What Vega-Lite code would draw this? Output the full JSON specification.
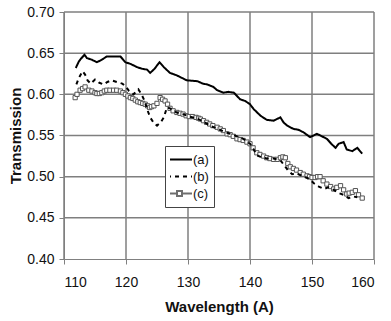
{
 "$schema": "https://vega.github.io/schema/vega-lite/v6.json",
 "width": 310, "height": 247,
 "autosize": {"type": "none"},
 "padding": {"left": 64, "top": 12, "right": 17, "bottom": 62},
 "background": "white",
 "config": {
  "font": "Liberation Sans",
  "view": {"stroke": null},
  "axis": {"grid": false, "domainColor": "#808080", "tickColor": "#808080", "labelFont": "Liberation Sans", "labelFontSize": 14, "labelColor": "#111", "titleFont": "Liberation Sans", "titleFontSize": 15, "titleFontWeight": "bold", "titleColor": "#111", "tickSize": 5}
 },
 "datasets": {
  "gx": [{"g": 110}, {"g": 120}, {"g": 130}, {"g": 140}, {"g": 150}, {"g": 160}],
  "gy": [{"g": 0.45}, {"g": 0.5}, {"g": 0.55}, {"g": 0.6}, {"g": 0.65}, {"g": 0.7}],
  "d": [
   {"s":"(a)","x":111.9,"y":0.632},{"s":"(a)","x":112.4,"y":0.640},{"s":"(a)","x":112.7,"y":0.643},{"s":"(a)","x":113.3,"y":0.648},{"s":"(a)","x":113.7,"y":0.644},{"s":"(a)","x":114.5,"y":0.642},{"s":"(a)","x":115.3,"y":0.639},{"s":"(a)","x":116.1,"y":0.642},{"s":"(a)","x":116.9,"y":0.646},{"s":"(a)","x":118.0,"y":0.646},{"s":"(a)","x":119.1,"y":0.646},{"s":"(a)","x":119.9,"y":0.639},{"s":"(a)","x":120.7,"y":0.637},{"s":"(a)","x":121.8,"y":0.633},{"s":"(a)","x":122.6,"y":0.631},{"s":"(a)","x":123.4,"y":0.630},{"s":"(a)","x":123.9,"y":0.626},{"s":"(a)","x":124.6,"y":0.631},{"s":"(a)","x":125.4,"y":0.639},{"s":"(a)","x":126.1,"y":0.633},{"s":"(a)","x":127.1,"y":0.626},{"s":"(a)","x":128.2,"y":0.623},{"s":"(a)","x":129.8,"y":0.617},{"s":"(a)","x":131.5,"y":0.616},{"s":"(a)","x":132.4,"y":0.613},{"s":"(a)","x":133.1,"y":0.612},{"s":"(a)","x":134.1,"y":0.609},{"s":"(a)","x":134.7,"y":0.605},{"s":"(a)","x":135.7,"y":0.602},{"s":"(a)","x":136.5,"y":0.603},{"s":"(a)","x":137.4,"y":0.602},{"s":"(a)","x":138.4,"y":0.594},{"s":"(a)","x":139.2,"y":0.592},{"s":"(a)","x":140.0,"y":0.588},{"s":"(a)","x":140.6,"y":0.582},{"s":"(a)","x":141.7,"y":0.574},{"s":"(a)","x":142.7,"y":0.569},{"s":"(a)","x":143.8,"y":0.568},{"s":"(a)","x":144.9,"y":0.572},{"s":"(a)","x":145.4,"y":0.566},{"s":"(a)","x":146.0,"y":0.562},{"s":"(a)","x":147.0,"y":0.558},{"s":"(a)","x":147.8,"y":0.557},{"s":"(a)","x":148.6,"y":0.554},{"s":"(a)","x":149.7,"y":0.548},{"s":"(a)","x":150.8,"y":0.552},{"s":"(a)","x":151.6,"y":0.549},{"s":"(a)","x":152.4,"y":0.546},{"s":"(a)","x":153.1,"y":0.540},{"s":"(a)","x":153.8,"y":0.535},{"s":"(a)","x":154.3,"y":0.540},{"s":"(a)","x":155.1,"y":0.542},{"s":"(a)","x":155.6,"y":0.533},{"s":"(a)","x":156.5,"y":0.531},{"s":"(a)","x":157.3,"y":0.535},{"s":"(a)","x":158.1,"y":0.528},
   {"s":"(b)","x":112.0,"y":0.612},{"s":"(b)","x":112.4,"y":0.620},{"s":"(b)","x":113.0,"y":0.628},{"s":"(b)","x":113.4,"y":0.624},{"s":"(b)","x":113.8,"y":0.617},{"s":"(b)","x":114.3,"y":0.613},{"s":"(b)","x":115.0,"y":0.618},{"s":"(b)","x":115.7,"y":0.614},{"s":"(b)","x":116.4,"y":0.612},{"s":"(b)","x":117.0,"y":0.615},{"s":"(b)","x":117.7,"y":0.617},{"s":"(b)","x":118.5,"y":0.615},{"s":"(b)","x":119.4,"y":0.613},{"s":"(b)","x":119.9,"y":0.610},{"s":"(b)","x":120.5,"y":0.604},{"s":"(b)","x":121.2,"y":0.600},{"s":"(b)","x":122.0,"y":0.606},{"s":"(b)","x":122.5,"y":0.600},{"s":"(b)","x":123.0,"y":0.592},{"s":"(b)","x":123.5,"y":0.580},{"s":"(b)","x":123.9,"y":0.572},{"s":"(b)","x":124.5,"y":0.565},{"s":"(b)","x":125.0,"y":0.562},{"s":"(b)","x":125.6,"y":0.566},{"s":"(b)","x":126.1,"y":0.572},{"s":"(b)","x":126.6,"y":0.584},{"s":"(b)","x":127.1,"y":0.583},{"s":"(b)","x":127.6,"y":0.580},{"s":"(b)","x":128.2,"y":0.578},{"s":"(b)","x":129.2,"y":0.576},{"s":"(b)","x":130.2,"y":0.573},{"s":"(b)","x":131.3,"y":0.571},{"s":"(b)","x":132.5,"y":0.567},{"s":"(b)","x":133.5,"y":0.562},{"s":"(b)","x":134.5,"y":0.559},{"s":"(b)","x":135.7,"y":0.555},{"s":"(b)","x":136.8,"y":0.552},{"s":"(b)","x":137.9,"y":0.549},{"s":"(b)","x":138.9,"y":0.546},{"s":"(b)","x":140.0,"y":0.540},{"s":"(b)","x":140.6,"y":0.533},{"s":"(b)","x":141.1,"y":0.526},{"s":"(b)","x":141.7,"y":0.524},{"s":"(b)","x":142.7,"y":0.522},{"s":"(b)","x":143.8,"y":0.522},{"s":"(b)","x":144.9,"y":0.520},{"s":"(b)","x":145.5,"y":0.514},{"s":"(b)","x":146.1,"y":0.508},{"s":"(b)","x":146.8,"y":0.503},{"s":"(b)","x":147.5,"y":0.504},{"s":"(b)","x":148.1,"y":0.502},{"s":"(b)","x":148.8,"y":0.500},{"s":"(b)","x":149.6,"y":0.497},{"s":"(b)","x":150.3,"y":0.492},{"s":"(b)","x":151.1,"y":0.488},{"s":"(b)","x":151.9,"y":0.485},{"s":"(b)","x":152.6,"y":0.487},{"s":"(b)","x":153.5,"y":0.484},{"s":"(b)","x":154.3,"y":0.480},{"s":"(b)","x":155.1,"y":0.478},{"s":"(b)","x":155.9,"y":0.474},{"s":"(b)","x":156.6,"y":0.476},{"s":"(b)","x":157.3,"y":0.475},
   {"s":"(c)","x":111.8,"y":0.596},{"s":"(c)","x":112.1,"y":0.600},{"s":"(c)","x":112.6,"y":0.605},{"s":"(c)","x":113.0,"y":0.607},{"s":"(c)","x":113.4,"y":0.609},{"s":"(c)","x":114.0,"y":0.605},{"s":"(c)","x":114.5,"y":0.604},{"s":"(c)","x":115.0,"y":0.602},{"s":"(c)","x":115.3,"y":0.601},{"s":"(c)","x":115.7,"y":0.601},{"s":"(c)","x":116.1,"y":0.602},{"s":"(c)","x":116.5,"y":0.604},{"s":"(c)","x":116.9,"y":0.605},{"s":"(c)","x":117.4,"y":0.605},{"s":"(c)","x":118.0,"y":0.605},{"s":"(c)","x":118.5,"y":0.605},{"s":"(c)","x":119.1,"y":0.604},{"s":"(c)","x":119.5,"y":0.602},{"s":"(c)","x":119.9,"y":0.600},{"s":"(c)","x":120.3,"y":0.598},{"s":"(c)","x":120.7,"y":0.596},{"s":"(c)","x":121.1,"y":0.595},{"s":"(c)","x":121.5,"y":0.593},{"s":"(c)","x":121.9,"y":0.591},{"s":"(c)","x":122.3,"y":0.590},{"s":"(c)","x":122.7,"y":0.589},{"s":"(c)","x":123.1,"y":0.588},{"s":"(c)","x":123.5,"y":0.586},{"s":"(c)","x":123.8,"y":0.584},{"s":"(c)","x":124.1,"y":0.585},{"s":"(c)","x":124.5,"y":0.586},{"s":"(c)","x":125.0,"y":0.589},{"s":"(c)","x":125.5,"y":0.596},{"s":"(c)","x":125.9,"y":0.594},{"s":"(c)","x":126.3,"y":0.592},{"s":"(c)","x":126.7,"y":0.588},{"s":"(c)","x":127.1,"y":0.583},{"s":"(c)","x":127.6,"y":0.580},{"s":"(c)","x":128.2,"y":0.578},{"s":"(c)","x":128.7,"y":0.577},{"s":"(c)","x":129.2,"y":0.576},{"s":"(c)","x":129.7,"y":0.574},{"s":"(c)","x":130.2,"y":0.573},{"s":"(c)","x":130.7,"y":0.573},{"s":"(c)","x":131.3,"y":0.572},{"s":"(c)","x":131.7,"y":0.571},{"s":"(c)","x":132.0,"y":0.570},{"s":"(c)","x":132.5,"y":0.568},{"s":"(c)","x":133.0,"y":0.566},{"s":"(c)","x":133.5,"y":0.564},{"s":"(c)","x":134.0,"y":0.562},{"s":"(c)","x":134.7,"y":0.560},{"s":"(c)","x":135.2,"y":0.558},{"s":"(c)","x":135.7,"y":0.556},{"s":"(c)","x":136.3,"y":0.552},{"s":"(c)","x":136.8,"y":0.551},{"s":"(c)","x":137.3,"y":0.549},{"s":"(c)","x":137.9,"y":0.546},{"s":"(c)","x":138.4,"y":0.545},{"s":"(c)","x":138.9,"y":0.544},{"s":"(c)","x":139.5,"y":0.542},{"s":"(c)","x":140.0,"y":0.540},{"s":"(c)","x":140.5,"y":0.535},{"s":"(c)","x":141.1,"y":0.529},{"s":"(c)","x":141.6,"y":0.527},{"s":"(c)","x":142.2,"y":0.525},{"s":"(c)","x":142.7,"y":0.523},{"s":"(c)","x":143.2,"y":0.522},{"s":"(c)","x":143.8,"y":0.521},{"s":"(c)","x":144.4,"y":0.521},{"s":"(c)","x":144.9,"y":0.523},{"s":"(c)","x":145.3,"y":0.524},{"s":"(c)","x":145.7,"y":0.523},{"s":"(c)","x":146.1,"y":0.516},{"s":"(c)","x":146.5,"y":0.512},{"s":"(c)","x":147.0,"y":0.510},{"s":"(c)","x":147.5,"y":0.508},{"s":"(c)","x":148.1,"y":0.505},{"s":"(c)","x":148.6,"y":0.503},{"s":"(c)","x":149.2,"y":0.501},{"s":"(c)","x":149.6,"y":0.500},{"s":"(c)","x":150.0,"y":0.499},{"s":"(c)","x":150.5,"y":0.499},{"s":"(c)","x":150.9,"y":0.500},{"s":"(c)","x":151.3,"y":0.500},{"s":"(c)","x":151.8,"y":0.495},{"s":"(c)","x":152.4,"y":0.491},{"s":"(c)","x":153.0,"y":0.488},{"s":"(c)","x":153.5,"y":0.485},{"s":"(c)","x":154.0,"y":0.487},{"s":"(c)","x":154.6,"y":0.489},{"s":"(c)","x":155.1,"y":0.484},{"s":"(c)","x":155.6,"y":0.479},{"s":"(c)","x":156.0,"y":0.480},{"s":"(c)","x":156.5,"y":0.481},{"s":"(c)","x":157.0,"y":0.483},{"s":"(c)","x":157.5,"y":0.478},{"s":"(c)","x":158.1,"y":0.474}
  ]
 },
 "layer": [
  {
   "data": {"name": "gx"},
   "mark": {"type": "rule", "color": "#7f7f7f", "strokeWidth": 1.5},
   "encoding": {
    "x": {"field": "g", "type": "quantitative", "scale": {"domain": [110, 160], "nice": false, "zero": false}, "axis": {"title": "Wavelength (A)", "values": [110, 120, 130, 140, 150, 160], "labelPadding": 11, "titlePadding": 10}}
   }
  },
  {
   "data": {"name": "gy"},
   "mark": {"type": "rule", "color": "#7f7f7f", "strokeWidth": 1.5},
   "encoding": {
    "y": {"field": "g", "type": "quantitative", "scale": {"domain": [0.4, 0.7], "nice": false, "zero": false}, "axis": {"title": "Transmission", "values": [0.4, 0.45, 0.5, 0.55, 0.6, 0.65, 0.7], "format": ".2f", "labelPadding": 5, "titlePadding": 3}}
   }
  },
  {
   "data": {"name": "d"},
   "transform": [{"filter": "datum.s === '(c)'"}],
   "mark": {"type": "line", "strokeWidth": 1},
   "encoding": {
    "x": {"field": "x", "type": "quantitative", "title": "Wavelength (A)"},
    "y": {"field": "y", "type": "quantitative", "title": "Transmission"},
    "color": {"field": "s", "type": "nominal", "scale": {"domain": ["(a)", "(b)", "(c)"], "range": ["#000000", "#000000", "#6e6e6e"]}},
    "strokeDash": {"field": "s", "type": "nominal", "scale": {"domain": ["(a)", "(b)", "(c)"], "range": [[1, 0], [4, 4], [1, 0]]}},
    "strokeWidth": {"field": "s", "type": "nominal", "scale": {"domain": ["(a)", "(b)", "(c)"], "range": [2, 2, 1]}}
   }
  },
  {
   "data": {"name": "d"},
   "transform": [{"filter": "datum.s === '(c)'"}],
   "mark": {"type": "point", "shape": "square", "size": 18, "filled": true, "fill": "white", "stroke": "#555555", "strokeWidth": 1, "opacity": 1},
   "encoding": {
    "x": {"field": "x", "type": "quantitative", "title": "Wavelength (A)"},
    "y": {"field": "y", "type": "quantitative", "title": "Transmission"}
   }
  },
  {
   "data": {"name": "d"},
   "transform": [{"filter": "datum.s !== '(c)'"}],
   "mark": {"type": "line"},
   "encoding": {
    "x": {"field": "x", "type": "quantitative", "title": "Wavelength (A)"},
    "y": {"field": "y", "type": "quantitative", "title": "Transmission"},
    "color": {"field": "s", "type": "nominal", "scale": {"domain": ["(a)", "(b)", "(c)"], "range": ["#000000", "#000000", "#6e6e6e"]},
     "legend": {"orient": "none", "legendX": 101, "legendY": 134, "title": null, "strokeColor": "#444", "fillColor": "white", "padding": 5, "symbolType": "M-2,0H2", "symbolSize": 156, "symbolOffset": 2, "clipHeight": 17, "labelFontSize": 13, "labelColor": "#111", "labelOffset": 6, "rowPadding": 0,
      "encode": {"symbols": {"update": {"shape": {"signal": "datum.value === '(c)' ? 'M-2,0H-0.4M0.4,0H2M-0.4,-0.4H0.4V0.4H-0.4Z' : 'M-2,0H2'"}}}}}},
    "strokeDash": {"field": "s", "type": "nominal", "scale": {"domain": ["(a)", "(b)", "(c)"], "range": [[1, 0], [4, 4], [1, 0]]}},
    "strokeWidth": {"field": "s", "type": "nominal", "scale": {"domain": ["(a)", "(b)", "(c)"], "range": [2, 2, 1]}}
   }
  }
 ]
}
